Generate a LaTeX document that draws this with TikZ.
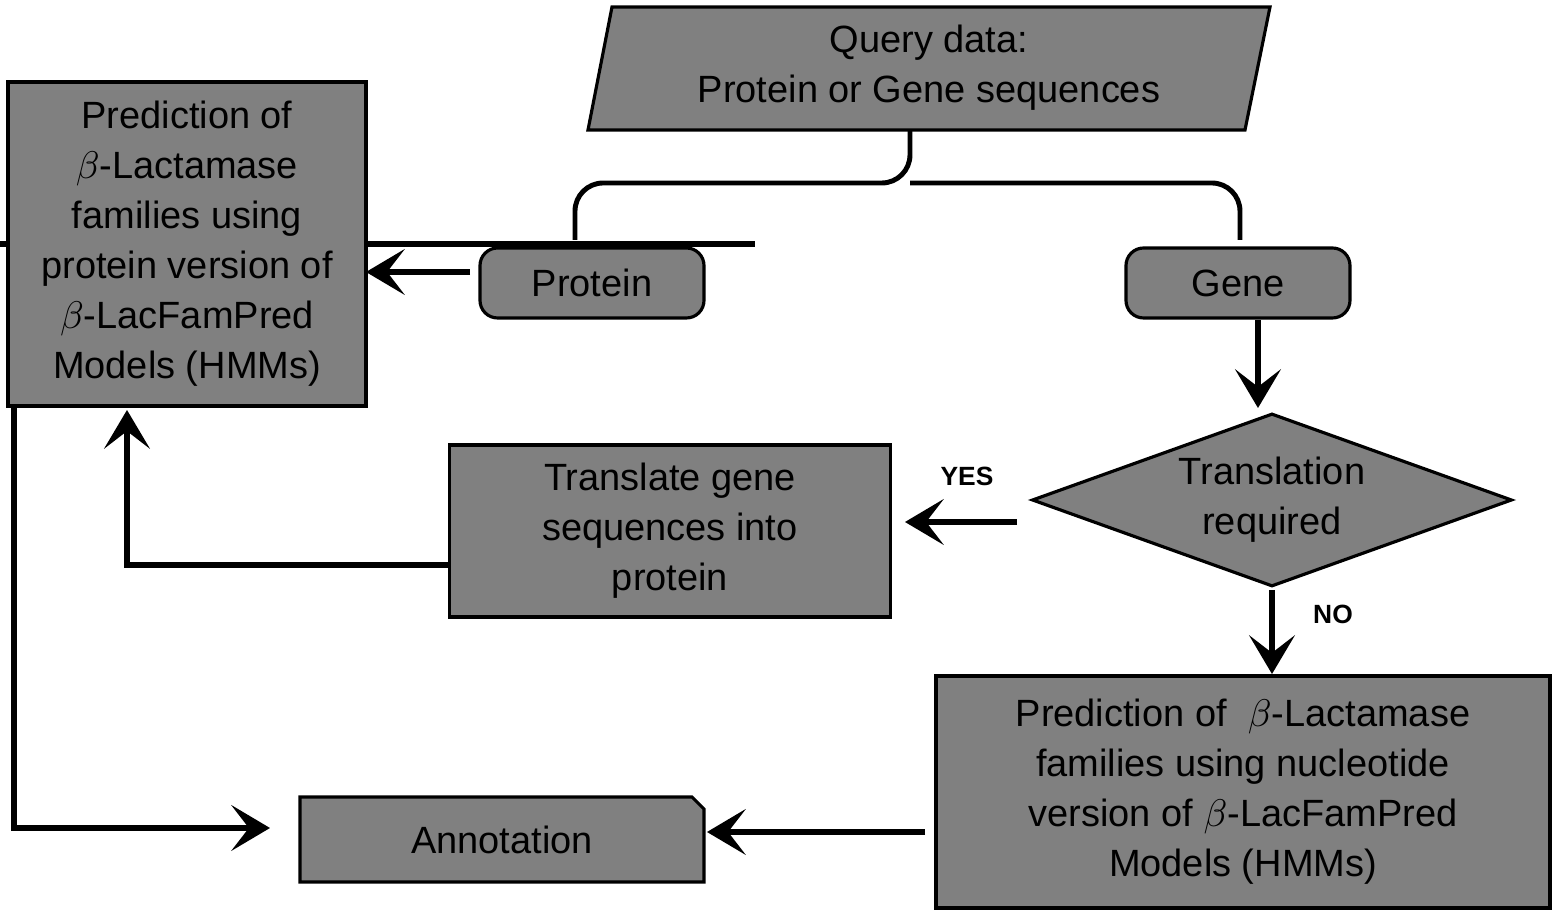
\documentclass[tikz,border=0pt]{standalone}
\usepackage{fontspec}
\setmainfont{Liberation Sans}
\usetikzlibrary{arrows.meta,shapes.geometric}
\begin{document}
\begin{tikzpicture}[x=0.01cm,y=-0.01cm,
  box/.style={draw=black,line width=0.9pt,fill=gray!95!black!55,align=center,font=\fontsize{10.8}{14.2}\selectfont},
  arr/.style={line width=1.5pt,-{Stealth[length=11pt,width=13pt,inset=5pt]}},
  lab/.style={font=\bfseries\fontsize{7.5}{9}\selectfont}]
\useasboundingbox (0,0) rectangle (1559,919);
\definecolor{bg}{RGB}{128,128,128}
\tikzset{box/.append style={fill=bg}}
\node[box,draw,inner sep=0] (q) at (929,68) {};
\fill[bg,draw=black,line width=0.9pt] (612,7) -- (1270,7) -- (1245,130) -- (588,130) -- cycle;
\node[align=center,font=\fontsize{10.8}{14.2}\selectfont] (qt) at (929,68) {Query data:\\Protein or Gene sequences};
\node[box,minimum width=358\pgflinewidth,inner sep=0] (L) at (187,244) {};
\fill[bg,draw=black,line width=0.9pt] (8,82) rectangle (366,406);
\node[align=center,font=\fontsize{10.8}{14.2}\selectfont] (Lt) at (187,244) {Prediction of\\$\beta$-Lactamase\\families using\\protein version of\\$\beta$-LacFamPred\\Models (HMMs)};
\node[box,rounded corners=5pt,minimum width=224*0.01cm,minimum height=70*0.01cm] (P) at (592,283) {Protein};
\node[box,rounded corners=5pt,minimum width=224*0.01cm,minimum height=70*0.01cm] (G) at (1238,283) {Gene};
\node[box,diamond,aspect=2.77,minimum width=480*0.01cm,minimum height=173*0.01cm,inner sep=0] (D) at (1272,500) {Translation\\required};
\node[box,minimum width=441*0.01cm,minimum height=172*0.01cm] (T) at (670,531) {Translate gene\\sequences into\\protein};
\node[box,minimum width=614*0.01cm,minimum height=232*0.01cm] (B) at (1243,792) {Prediction of\ \ $\beta$-Lactamase\\families using nucleotide\\version of $\beta$-LacFamPred\\Models (HMMs)};
\fill[bg,draw=black,line width=0.9pt] (300,797) -- (692,797) -- (704,809) -- (704,882) -- (300,882) -- cycle;
\node[font=\fontsize{10.8}{14.2}\selectfont] (A) at (502,840) {Annotation};
% brace
\draw[line width=1.4pt,rounded corners=8pt] (575,240) -- (575,183) -- (910,183) -- (910,130);
\draw[line width=1.4pt,rounded corners=8pt] (1240,240) -- (1240,183) -- (910,183);
\coordinate (pa) at (470,272); \coordinate (la) at (366,272);
\draw[arr] (pa) -- (la);
\coordinate (g1) at (1258,320); \coordinate (g2) at (1258,408);
\draw[arr] (g1) -- (g2);
\coordinate (y1) at (1017,522); \coordinate (y2) at (905,522);
\draw[arr] (y1) -- (y2);
\node[lab] (yes) at (967,476) {YES};
\coordinate (n1) at (1272,590); \coordinate (n2) at (1272,674);
\draw[arr] (n1) -- (n2);
\node[lab] (no) at (1333,614) {NO};
\coordinate (t1) at (450,565); \coordinate (t3) at (127,410);
\draw[arr] (t1) -- (127,565) -- (t3);
\coordinate (l1) at (14,406); \coordinate (l3) at (270,828);
\draw[arr] (l1) -- (14,828) -- (l3);
\coordinate (b1) at (925,832); \coordinate (b2) at (707,832);
\draw[arr] (b1) -- (b2);
\end{tikzpicture}
\end{document}
